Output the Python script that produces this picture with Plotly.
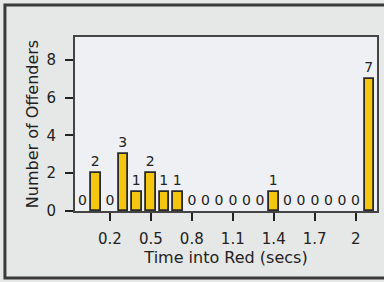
import plotly.graph_objects as go

times = [0.0, 0.1, 0.2, 0.3, 0.4, 0.5, 0.6, 0.7, 0.8, 0.9, 1.0, 1.1, 1.2, 1.3,
         1.4, 1.5, 1.6, 1.7, 1.8, 1.9, 2.0, 2.1]
offenders = [0, 2, 0, 3, 1, 2, 1, 1, 0, 0, 0, 0, 0, 0,
             1, 0, 0, 0, 0, 0, 0, 7]
x_tickvals = [0.2, 0.5, 0.8, 1.1, 1.4, 1.7, 2.0]
x_ticktext = ["0.2", "0.5", "0.8", "1.1", "1.4", "1.7", "2"]
y_tickvals = [0, 2, 4, 6, 8]

font_family = "DejaVu Sans"
dark = "#222222"

fig = go.Figure(go.Bar(
    x=times, y=offenders, width=0.07,
    marker=dict(color="#F4C610",
                line=dict(color="#2a2a2a",
                          width=[0 if v == 0 else 1.8 for v in offenders])),
    text=[str(v) for v in offenders], textposition="outside",
    textfont=dict(family=font_family, size=14, color=dark),
    cliponaxis=False,
))

fig.update_layout(
    width=384, height=282,
    margin=dict(l=75, r=7, t=37, b=71, autoexpand=False),
    paper_bgcolor="#e6e7e7", plot_bgcolor="#eef0f3",
    showlegend=False, bargap=0,
    font=dict(family=font_family, size=14, color=dark),
    shapes=[dict(type="rect", xref="paper", yref="paper",
                 x0=-0.232, x1=1.2, y0=-0.385, y1=1.184,
                 line=dict(color="#3a3a3a", width=3), fillcolor="rgba(0,0,0,0)",
                 layer="below")],
)
fig.update_xaxes(
    range=[-0.055, 2.156], tickvals=x_tickvals, ticktext=x_ticktext,
    ticks="outside", ticklen=8, tickcolor=dark, tickwidth=1.5,
    ticklabelstandoff=5, showgrid=False, zeroline=False,
    showline=True, linecolor="#444444", linewidth=2, mirror=True,
    tickfont=dict(size=15), automargin=False,
    title=dict(text="Time into Red (secs)", font=dict(size=16), standoff=3),
)
fig.update_yaxes(
    range=[0, 9.2], tickvals=y_tickvals,
    ticks="outside", ticklen=8, tickcolor=dark, tickwidth=1.5,
    ticklabelstandoff=6, showgrid=False, zeroline=False,
    showline=True, linecolor="#444444", linewidth=2, mirror=True,
    tickfont=dict(size=15), automargin=False,
    title=dict(text="Number of Offenders", font=dict(size=16), standoff=4),
)

fig.write_html("out.html", config={"displayModeBar": False},
               post_script="document.body.style.margin='0';document.body.style.background='#e6e7e7';")
